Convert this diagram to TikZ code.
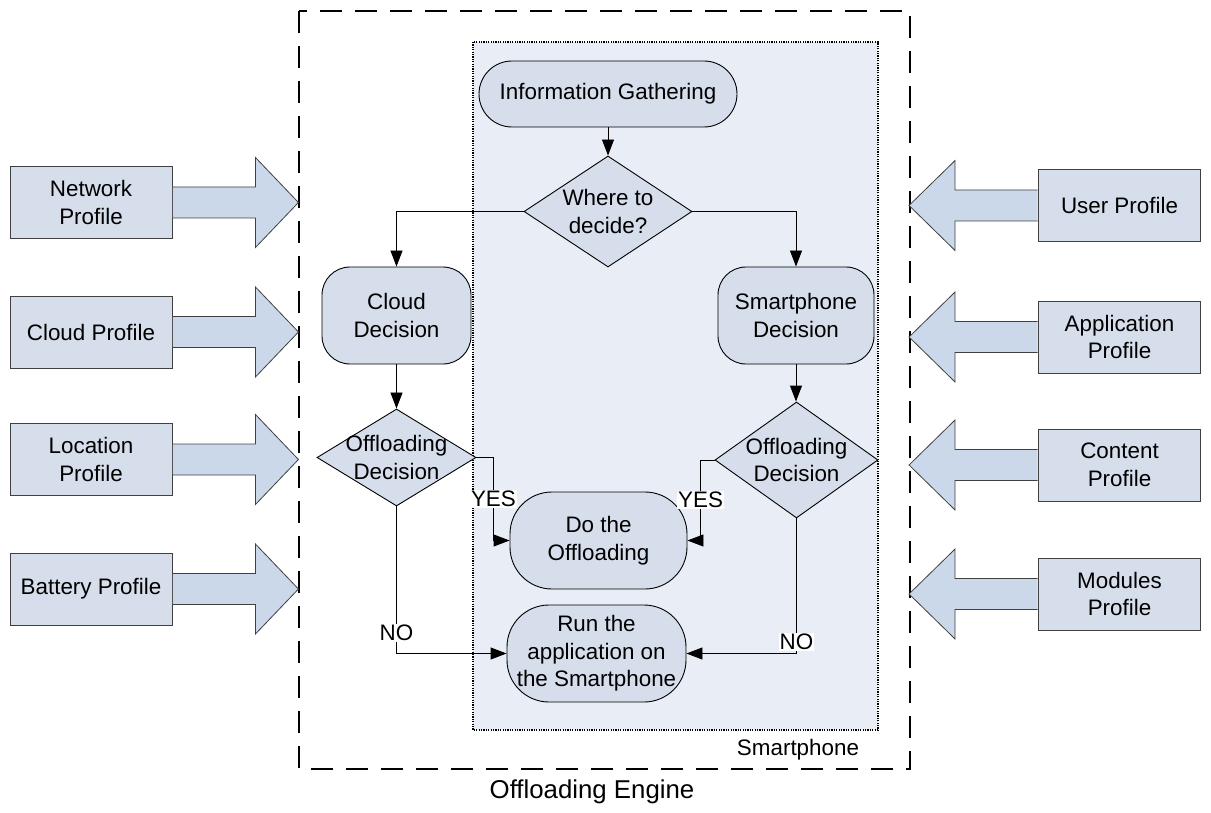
\documentclass[tikz,border=0pt]{standalone}
\usepackage{fontspec}
\setmainfont{Liberation Sans}
\usetikzlibrary{shapes.geometric,arrows.meta,calc}
\definecolor{nodefill}{HTML}{D5DEEA}
\definecolor{arrowfill}{HTML}{CBD8E9}
\definecolor{smartfill}{HTML}{E9EEF6}
\definecolor{edgecol}{HTML}{404040}
\newcommand{\zb}[1]{\makebox[0pt]{#1}}
\newcommand{\arrR}[1]{\draw[blk] ($(#1.east)+(0.5,-15.5)$) -- ++(82.5,0) -- ++(0,-29.5) -- ++(43,45) -- ++(-43,45) -- ++(0,-29.5) -- ++(-82.5,0);}
\newcommand{\arrL}[1]{\draw[blk] ($(#1.west)+(-0.5,-15.5)$) -- ++(-82.5,0) -- ++(0,-29.5) -- ++(-46,45) -- ++(46,45) -- ++(0,-29.5) -- ++(82.5,0);}
\begin{document}
\begin{tikzpicture}[x=1pt,y=-1pt,
  every node/.style={font=\fontsize{22.4pt}{27.5pt}\selectfont, align=center, text=black},
  profile/.style={draw=edgecol, fill=nodefill, minimum width=162pt, minimum height=72pt, inner sep=0pt, line width=0.9pt},
  blk/.style={draw=edgecol, fill=arrowfill, line width=0.8pt, line join=miter},
  term/.style={draw=black, fill=nodefill, rounded corners=#1, inner sep=0pt, line width=0.9pt},
  dec/.style={diamond, draw=black, fill=nodefill, inner sep=0pt, line width=0.9pt},
  conn/.style={draw=black, line width=0.9pt, -{Triangle[length=16pt,width=12pt]}},
  lbl/.style={fill=white, inner sep=1pt}
]
\useasboundingbox (0,0) rectangle (1211,813);

% containers
\draw[dash pattern=on 22pt off 13pt, line width=1.5pt] (299,11) rectangle (910,769);
\draw[fill=smartfill, dash pattern=on 1.2pt off 1.2pt, line width=1.2pt] (473,42) rectangle (878,730);

% profiles
\node[profile] (np) at (91,202.5) {Network\\Profile};
\node[profile] (cp) at (91,332) {Cloud Profile};
\node[profile] (lp) at (91,459.5) {Location\\Profile};
\node[profile] (bp) at (91,589) {Battery Profile};
\node[profile] (up) at (1119.5,205.5) {User Profile};
\node[profile] (ap) at (1119.5,337) {Application\\Profile};
\node[profile] (ctp) at (1119.5,465) {Content\\Profile};
\node[profile] (mp) at (1119.5,594) {Modules\\Profile};

\arrR{np}\arrR{cp}\arrR{lp}\arrR{bp}
\arrL{up}\arrL{ap}\arrL{ctp}\arrL{mp}

% flow
\node[term=33pt, minimum width=258pt, minimum height=66pt] (ig) at (608,94) {Information Gathering};
\node[dec, minimum width=168pt, minimum height=111pt] (wd) at (608,211.5) {\zb{Where to}\\\zb{decide?}};
\node[term=28pt, minimum width=149pt, minimum height=97pt] (cd) at (396.5,315.5) {Cloud\\Decision};
\node[term=28pt, minimum width=156pt, minimum height=97pt] (sd) at (796,315.5) {Smartphone\\Decision};
\node[dec, minimum width=159pt, minimum height=97pt] (od1) at (396.5,457.5) {\zb{Offloading}\\\zb{Decision}};
\node[dec, minimum width=163pt, minimum height=116pt] (od2) at (796.5,460) {\zb{Offloading}\\\zb{Decision}};
\node[term=42pt, minimum width=177pt, minimum height=97pt] (do) at (598.5,540.5) {Do the\\Offloading};
\node[term=42pt, minimum width=179pt, minimum height=97pt] (run) at (596.5,653.5) {Run the\\application on\\the Smartphone};

\draw[conn] (ig) -- (wd);
\draw[conn] (wd.west) -| (cd.north);
\draw[conn] (wd.east) -| (sd.north);
\draw[conn] (cd) -- (od1);
\draw[conn] (sd.south) -- (sd.south |- od2.north);
\draw[conn] (od1.east) -- ++(17,0) |- (do.west) node[lbl, pos=0.25] {YES};
\draw[conn] (od2.west) -- ++(-14,0) |- (do.east) node[lbl, pos=0.25] {YES};
\draw[conn] (od1.south) |- (run.west) node[lbl, pos=0.43] {NO};
\draw[conn] (od2.south) |- (run.east) node[lbl, pos=0.456] {NO};

% captions
\node (sm) at (798,750) {Smartphone};
\node[font=\fontsize{25.8pt}{30pt}\selectfont] (oe) at (592,792) {Offloading Engine};
\end{tikzpicture}
\end{document}
